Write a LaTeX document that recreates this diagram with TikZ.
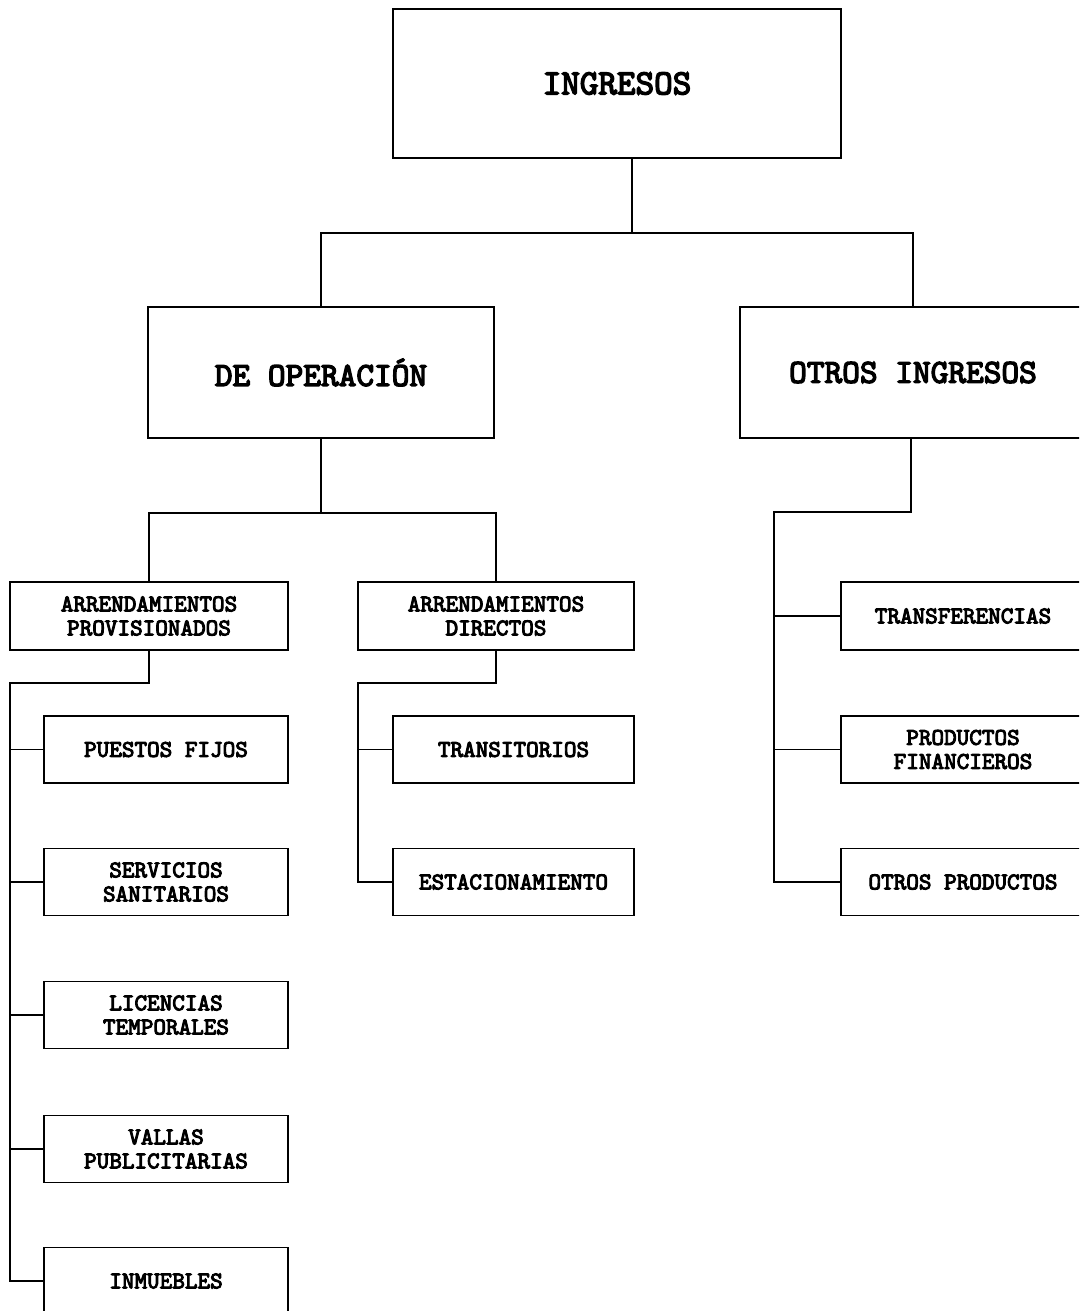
\documentclass[tikz,border=0pt]{standalone}
\usepackage{fontspec}
\setmonofont{lmmono10-regular.otf}[BoldFont=lmmono10-regular.otf,BoldFeatures={FakeBold=4}]
\begin{document}
\begin{tikzpicture}[x=1pt,y=-1pt,
  box/.style={draw=black,line width=1.6pt,fill=white,inner sep=0pt,align=center,font=\ttfamily\bfseries},
  bigbox/.style={box,font=\ttfamily\bfseries\fontsize{35.4}{40}\selectfont},
  midbox/.style={box,font=\ttfamily\bfseries\fontsize{33.7}{38}\selectfont,minimum width=346pt,minimum height=131pt},
  smallbox/.style={box,font=\ttfamily\bfseries\fontsize{24}{24}\selectfont,minimum height=67pt},
  link/.style={draw=black,line width=1.6pt}]
\useasboundingbox (0,0) rectangle (1079,1311);
\clip (0,0) rectangle (1079,1311);
\fill[white] (0,0) rectangle (1079,1311);
% top
\node[bigbox,minimum width=448pt,minimum height=149pt] (ing) at (617,83.5) {INGRESOS};
\node[midbox] (deop) at (321,372.5) {DE OPERACIÓN};
\node[midbox] (otros) at (913,372.5) {OTROS INGRESOS};
% second level
\node[smallbox,minimum width=278pt,minimum height=68pt] (ap) at (149,616) {ARRENDAMIENTOS\\PROVISIONADOS};
\node[smallbox,minimum width=276pt,minimum height=68pt] (ad) at (496,616) {ARRENDAMIENTOS\\DIRECTOS};
% left column
\node[smallbox,minimum width=244pt] (pf) at (166,749.5) {PUESTOS FIJOS};
\node[smallbox,minimum width=244pt] (ss) at (166,882) {SERVICIOS\\SANITARIOS};
\node[smallbox,minimum width=244pt] (lt) at (166,1015) {LICENCIAS\\TEMPORALES};
\node[smallbox,minimum width=244pt] (vp) at (166,1149) {VALLAS\\PUBLICITARIAS};
\node[smallbox,minimum width=244pt] (inm) at (166,1281) {INMUEBLES};
% middle column
\node[smallbox,minimum width=241pt] (tr) at (513.5,749.5) {TRANSITORIOS};
\node[smallbox,minimum width=241pt] (est) at (513.5,882) {ESTACIONAMIENTO};
% right column
\node[smallbox,minimum width=244pt,minimum height=68pt] (tf) at (963,616) {TRANSFERENCIAS};
\node[smallbox,minimum width=244pt] (pfin) at (963,749.5) {PRODUCTOS\\FINANCIEROS};
\node[smallbox,minimum width=244pt] (op) at (963,882) {OTROS PRODUCTOS};
% connectors
\draw[link] ([xshift=15pt]ing.south) -- ++(0,74) coordinate (j1);
\draw[link] (deop.north) |- (j1) -| (otros.north);
\draw[link] (deop.south) -- ++(0,74) coordinate (j2);
\draw[link] (ap.north) |- (j2) -| (ad.north);
\coordinate (b1) at (10,683);
\coordinate (b2) at (358,683);
\coordinate (b3) at (774,512);
\draw[link] (ap.south) |- (b1) -- (b1 |- inm.west) -- (inm.west);
\foreach \n in {pf,ss,lt,vp} \draw[link] (b1 |- \n.west) -- (\n.west);
\draw[link] (ad.south) |- (b2) -- (b2 |- est.west) -- (est.west);
\draw[link] (b2 |- tr.west) -- (tr.west);
\draw[link] ([xshift=-2pt]otros.south) |- (b3) -- (b3 |- op.west) -- (op.west);
\foreach \n in {tf,pfin} \draw[link] (b3 |- \n.west) -- (\n.west);
\end{tikzpicture}
\end{document}
